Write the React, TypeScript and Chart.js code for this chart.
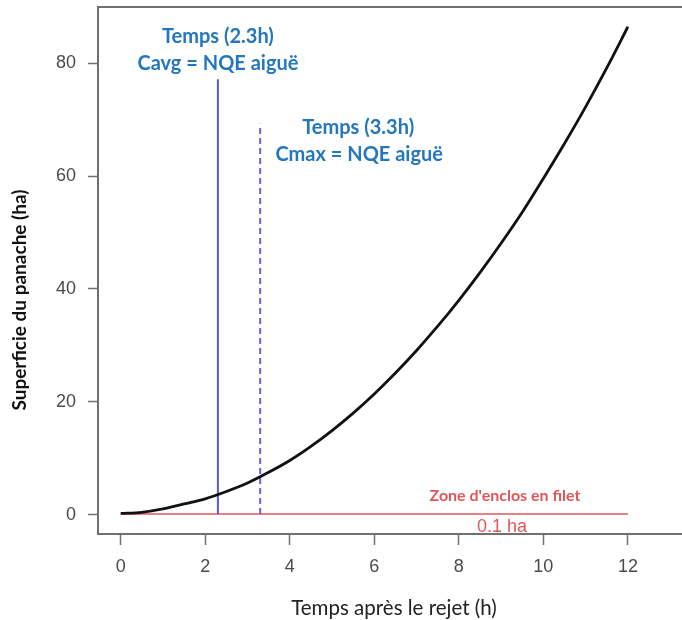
import React, { useEffect, useRef } from "react";
import { Chart, registerables } from "chart.js";

Chart.register(...registerables);

// Hours after release and plume area (ha)
const hours = [0, 0.5, 1, 1.5, 2, 2.5, 3, 3.5, 4, 4.5, 5, 5.5, 6, 6.5, 7, 7.5, 8, 8.5, 9, 9.5, 10, 10.5, 11, 11.5, 12];
const plumeArea = [0.2, 0.4, 1.0, 1.9, 2.8, 4.1, 5.6, 7.5, 9.6, 12.1, 14.9, 18.0, 21.4, 25.1, 29.1, 33.4, 38.0, 42.9, 48.1, 53.6, 59.6, 65.8, 72.3, 79.2, 86.5];

// Time markers (h) and the heights their lines reach (ha)
const cavgTime = 2.3;
const cavgTop = 77.2;
const cmaxTime = 3.3;
const cmaxTop = 69.3;

// Net-pen zone area (ha)
const penArea = 0.1;
const penStart = 0;
const penEnd = 12;

const xTicks = [0, 2, 4, 6, 8, 10, 12];
const yTicks = [0, 20, 40, 60, 80];

const BLUE_TEXT = "#2477bd";
const RED = "#e0575a";
const AXIS_GREY = "#707070";

const annotations = {
  id: "annotations",
  afterDraw(chart: any) {
    const { ctx, chartArea, scales } = chart;
    const x = scales.x;
    const y = scales.y;
    ctx.save();

    // top edge of the frame
    ctx.strokeStyle = AXIS_GREY;
    ctx.lineWidth = 2;
    ctx.beginPath();
    ctx.moveTo(chartArea.left, chartArea.top);
    ctx.lineTo(chartArea.right, chartArea.top);
    ctx.stroke();

    ctx.textAlign = "center";
    ctx.textBaseline = "middle";

    // time labels
    ctx.fillStyle = BLUE_TEXT;
    ctx.font = "bold 20px Lato";
    ctx.fillText("Temps (2.3h)", x.getPixelForValue(cavgTime), 37);
    ctx.fillText("Cavg = NQE aiguë", x.getPixelForValue(cavgTime), 64);
    ctx.fillText("Temps (3.3h)", x.getPixelForValue(cmaxTime) + 98, 128);
    ctx.fillText("Cmax = NQE aiguë", x.getPixelForValue(cmaxTime) + 99, 155);

    // net-pen zone labels
    const py = y.getPixelForValue(penArea);
    ctx.fillStyle = RED;
    ctx.font = "bold 16px Lato";
    ctx.fillText("Zone d'enclos en filet", 505, py - 18);
    ctx.font = "18px 'Liberation Sans'";
    ctx.fillText(penArea + " ha", 502, py + 13);

    // axis titles
    ctx.fillStyle = "#222";
    ctx.font = "20.5px Lato";
    ctx.fillText("Temps après le rejet (h)", 394, 608);

    ctx.save();
    ctx.translate(20, 300);
    ctx.rotate(-Math.PI / 2);
    ctx.font = "bold 19px Lato";
    ctx.fillStyle = "#111";
    ctx.fillText("Superficie du panache (ha)", 0, 0);
    ctx.restore();

    ctx.restore();
  },
};

export default function App() {
  const ref = useRef<HTMLCanvasElement>(null);

  useEffect(() => {
    if (!ref.current) return;
    const chart = new Chart(ref.current, {
      type: "line",
      data: {
        datasets: [
          {
            label: "Zone d'enclos",
            data: [
              { x: penStart, y: penArea },
              { x: penEnd, y: penArea },
            ],
            borderColor: RED,
            borderWidth: 1.5,
            pointRadius: 0,
            order: 3,
          },
          {
            label: "Cavg",
            data: [
              { x: cavgTime, y: penArea },
              { x: cavgTime, y: cavgTop },
            ],
            borderColor: "#5a5ad2",
            borderWidth: 2,
            pointRadius: 0,
            order: 2,
          },
          {
            label: "Cmax",
            data: [
              { x: cmaxTime, y: penArea },
              { x: cmaxTime, y: cmaxTop },
            ],
            borderColor: "#6c62c8",
            borderWidth: 2,
            borderDash: [6, 4],
            pointRadius: 0,
            order: 2,
          },
          {
            label: "Superficie",
            data: hours.map((h, i) => ({ x: h, y: plumeArea[i] })),
            borderColor: "#111",
            borderWidth: 2.8,
            pointRadius: 0,
            cubicInterpolationMode: "monotone",
            order: 1,
          },
        ],
      },
      options: {
        animation: false,
        responsive: false,
        events: [],
        layout: { padding: { top: 7, right: 0, left: 0, bottom: 0 } },
        plugins: {
          legend: { display: false },
          tooltip: { enabled: false },
        },
        scales: {
          x: {
            type: "linear",
            min: -0.537,
            max: 13.28,
            afterBuildTicks: (s: any) => {
              s.ticks = xTicks.map((v) => ({ value: v }));
            },
            afterFit: (s: any) => {
              s.height = 86;
              s.paddingLeft = 0;
              s.paddingRight = 0;
            },
            grid: {
              drawOnChartArea: false,
              drawTicks: true,
              tickLength: 11,
              tickColor: AXIS_GREY,
              tickWidth: 1.5,
            },
            border: { display: true, color: AXIS_GREY, width: 2 },
            ticks: {
              color: "#4a4a4a",
              font: { family: "Liberation Sans", size: 18 },
              padding: 11,
              maxRotation: 0,
            },
          },
          y: {
            type: "linear",
            min: -3.44,
            max: 90.0,
            afterBuildTicks: (s: any) => {
              s.ticks = yTicks.map((v) => ({ value: v }));
            },
            afterFit: (s: any) => {
              s.width = 98;
              s.paddingTop = 0;
              s.paddingBottom = 0;
            },
            grid: {
              drawOnChartArea: false,
              drawTicks: true,
              tickLength: 10,
              tickColor: AXIS_GREY,
              tickWidth: 1.5,
            },
            border: { display: true, color: AXIS_GREY, width: 2 },
            ticks: {
              color: "#4a4a4a",
              font: { family: "Liberation Sans", size: 18 },
              padding: 12,
            },
          },
        },
      },
      plugins: [annotations],
    });
    return () => chart.destroy();
  }, []);

  return (
    <div style={{ position: "fixed", left: 0, top: 0, width: 682, height: 620, background: "#fff" }}>
      <canvas ref={ref} width={682} height={620} />
    </div>
  );
}
